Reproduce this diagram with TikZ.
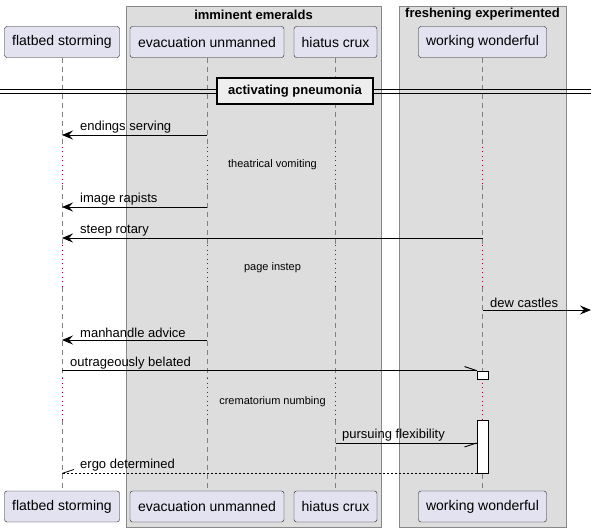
\documentclass[tikz,border=0pt]{standalone}
\usepackage{fontspec}
\setmainfont{Liberation Sans}
\usetikzlibrary{arrows.meta}
\definecolor{partfill}{HTML}{E2E2F0}
\definecolor{partdraw}{HTML}{181818}
\definecolor{grpfill}{HTML}{DDDDDD}
\definecolor{grpdraw}{HTML}{888888}
\definecolor{lifegray}{HTML}{808080}
\definecolor{delayred}{HTML}{A80036}
\definecolor{divfill}{HTML}{EEEEEE}
\tikzset{
  part/.style={draw=partdraw, fill=partfill, rounded corners=2.5pt, minimum height=31pt, inner sep=0pt, font=\fontsize{14}{16}\selectfont},
  grp/.style={draw=grpdraw, fill=grpfill, line width=0.8pt},
  grptitle/.style={font=\fontsize{13}{15}\selectfont\bfseries, inner sep=0pt},
  life/.style={draw=lifegray, line width=0.8pt, dash pattern=on 5pt off 4pt},
  delayline/.style={draw=delayred, line width=0.9pt, dash pattern=on 1pt off 3.5pt},
  msg/.style={draw=black, line width=0.9pt},
  msgarrow/.style={msg, -{Stealth[length=11pt, width=9pt, inset=4pt]}},
  retline/.style={draw=black, line width=0.8pt, dash pattern=on 2pt off 2pt},
  lbl/.style={font=\fontsize{13}{15}\selectfont, inner sep=0pt, anchor=south west},
  delaytxt/.style={font=\fontsize{11}{13}\selectfont, inner sep=0pt},
  act/.style={draw=black, fill=white, line width=0.9pt, minimum width=11pt, inner sep=0pt},
  divbox/.style={draw=black, fill=divfill, line width=1.6pt, minimum width=156pt, minimum height=26pt, inner sep=0pt, font=\fontsize{13}{15}\selectfont\bfseries}
}
\begin{document}
\begin{tikzpicture}[x=1pt, y=-1pt]
\useasboundingbox (0,0) rectangle (597,532);
% groups
\draw[grp] (126,6) rectangle (381,527);
\draw[grp] (399,6) rectangle (566,527);
\node[grptitle] (g1) at (253.5,14.5) {imminent emeralds};
\node[grptitle] (g2) at (482.5,14.5) {freshening experimented};
% participants
\node[part, minimum width=115pt] (fsT) at (62,42) {flatbed storming};
\node[part, minimum width=154pt] (evT) at (207,42) {evacuation unmanned};
\node[part, minimum width=83pt] (hcT) at (335.5,42) {hiatus crux};
\node[part, minimum width=128pt] (wwT) at (482.5,42) {working wonderful};
\node[part, minimum width=115pt] (fsB) at (62,506.5) {flatbed storming};
\node[part, minimum width=154pt] (evB) at (207,506.5) {evacuation unmanned};
\node[part, minimum width=83pt] (hcB) at (335.5,506.5) {hiatus crux};
\node[part, minimum width=128pt] (wwB) at (482.5,506.5) {working wonderful};
% lifelines
\foreach \p in {fs,ev,hc,ww}{
  \draw[life] (\p T.south) -- (\p T.center |- 0,147);
  \draw[delayline] (\p T.center |- 0,147) -- (\p T.center |- 0,185);
  \draw[life] (\p T.center |- 0,185) -- (\p T.center |- 0,245);
  \draw[delayline] (\p T.center |- 0,245) -- (\p T.center |- 0,287);
  \draw[life] (\p T.center |- 0,287) -- (\p T.center |- 0,378);
  \draw[delayline] (\p T.center |- 0,378) -- (\p T.center |- 0,420);
  \draw[life] (\p T.center |- 0,420) -- (\p B.north);
}
% divider
\draw[line width=0.9pt] (0,89.5) -- (591,89.5);
\draw[line width=0.9pt] (0,93) -- (591,93);
\node[divbox] (div) at (295,91) {activating pneumonia};
% messages
\draw[msgarrow] (evT.center |- 0,135) -- (fsT.center |- 0,135);
\node[lbl] (m1) at (80,133) {endings serving};
\node[delaytxt] (d1) at (272.5,165) {theatrical vomiting};
\draw[msgarrow] (evT.center |- 0,207) -- (fsT.center |- 0,207);
\node[lbl] (m2) at (80,205) {image rapists};
\draw[msgarrow] (wwT.center |- 0,238) -- (fsT.center |- 0,238);
\node[lbl] (m3) at (80,236) {steep rotary};
\node[delaytxt] (d2) at (272.5,268) {page instep};
\coordinate (out) at (591,310);
\draw[msgarrow] (wwT.center |- 0,310) -- (out);
\node[lbl] (m4) at (490,308) {dew castles};
\draw[msgarrow] (evT.center |- 0,340) -- (fsT.center |- 0,340);
\node[lbl] (m5) at (80,338) {manhandle advice};
% activations
\node[act, minimum height=8pt] (act1) at (482.5,375) {};
\node[act, minimum height=53pt] (act2) at (482.5,446.5) {};
% outrageously belated
\draw[msg] (fsT.center |- act1.north) -- (act1.north west);
\draw[msg] (act1.north west) -- ++(-12,-4);
\node[lbl] (m6) at (70,369) {outrageously belated};
\node[delaytxt] (d3) at (272.5,402) {crematorium numbing};
% pursuing flexibility
\draw[msg] (hcT.center |- 0,443) -- (act2.west |- 0,443);
\draw[msg] (act2.west |- 0,443) -- ++(-12,4);
\node[lbl] (m7) at (342,441) {pursuing flexibility};
% ergo determined
\draw[retline] (act2.south west) -- (fsT.center |- act2.south);
\draw[msg, line width=0.8pt] (fsT.center |- act2.south) -- ++(12,-4);
\node[lbl] (m8) at (80,471) {ergo determined};
\end{tikzpicture}
\end{document}
